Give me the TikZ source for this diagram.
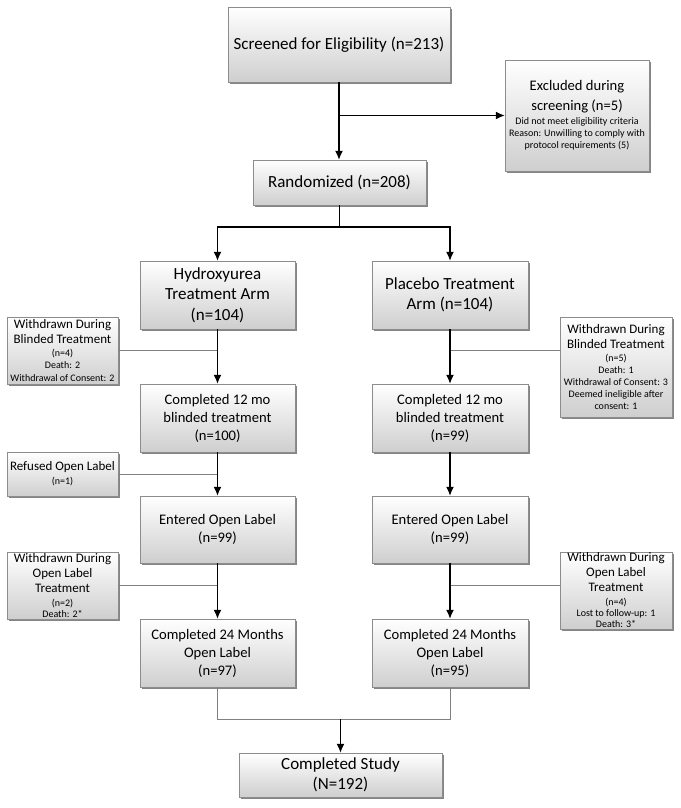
\documentclass[tikz,border=0pt]{standalone}
\usepackage{fontspec}
\setmainfont{Carlito}
\usetikzlibrary{arrows.meta,shadows}
\newcommand\bigtxt{\fontsize{17}{20.5}\selectfont}
\newcommand\midtxt{\fontsize{14.6}{18}\selectfont}
\newcommand\sidetxt{\fontsize{13}{15}\selectfont}
\newcommand\smalltxt{\fontsize{10}{12.2}\selectfont}
\newcommand\ttl[1]{{\sidetxt #1}}
\tikzset{
  box/.style={draw=black!45, top color=white, bottom color=black!19, align=center, inner sep=0pt,
    drop shadow={shadow xshift=1.6pt, shadow yshift=-1.6pt, fill=black!60, opacity=0.8}},
  wh/.style 2 args={minimum width=#1pt, minimum height=#2pt},
  bigbox/.style={box, font=\bigtxt},
  midbox/.style={box, font=\midtxt},
  sidebox/.style={box, font=\smalltxt},
  arr/.style={->, line width=1.3pt},
  gline/.style={draw=black!50, line width=0.9pt},
}
\begin{document}
\begin{tikzpicture}[>={Latex[length=9pt,width=8pt]}, x=1pt, y=-1pt]
  \useasboundingbox (0,0) rectangle (680,808);
  % main flow
  \node[bigbox, wh={222}{75}] (screen) at (339,44.5) {Screened for Eligibility (n=213)};
  \node[sidebox, wh={144}{111}] (excl) at (577,115.5) {{\midtxt Excluded during}\\[5.8pt]{\midtxt screening (n=5)}\\[1.8pt]
    Did not meet eligibility criteria\\Reason: Unwilling to comply with\\protocol requirements (5)};
  \node[bigbox, wh={173}{45}] (rand) at (339.5,182.5) {Randomized (n=208)};
  \node[bigbox, wh={155}{68}] (hu) at (217.5,295) {Hydroxyurea\\Treatment Arm\\(n=104)};
  \node[bigbox, wh={156}{68}] (pl) at (450,295) {Placebo Treatment\\Arm (n=104)};
  \node[midbox, wh={155}{68}] (c12l) at (217.5,418) {Completed 12 mo\\blinded treatment\\(n=100)};
  \node[midbox, wh={156}{68}] (c12r) at (450,418) {Completed 12 mo\\blinded treatment\\(n=99)};
  \node[midbox, wh={155}{67}] (eol) at (217.5,529.5) {Entered Open Label\\(n=99)};
  \node[midbox, wh={156}{67}] (eor) at (450,529.5) {Entered Open Label\\(n=99)};
  \node[midbox, wh={155}{68}] (c24l) at (217.5,653) {Completed 24 Months\\Open Label\\(n=97)};
  \node[midbox, wh={156}{68}] (c24r) at (450,653) {Completed 24 Months\\Open Label\\(n=95)};
  \node[bigbox, wh={203}{44}] (done) at (340.5,775) {Completed Study\\(N=192)};
  % side boxes
  \node[sidebox, wh={111}{67}] (wbl) at (62.5,350.5) {\ttl{Withdrawn During}\\[2.8pt]\ttl{Blinded Treatment}\\[0.8pt]
    (n=4)\\Death: 2\\Withdrawal of Consent: 2};
  \node[sidebox, wh={112}{100}] (wbr) at (616,367) {\ttl{Withdrawn During}\\[2.8pt]\ttl{Blinded Treatment}\\[0.8pt]
    (n=5)\\Death: 1\\Withdrawal of Consent: 3\\Deemed ineligible after\\consent: 1};
  \node[sidebox, wh={111}{44}] (ref) at (62.5,474) {\ttl{Refused Open Label}\\[1.8pt](n=1)};
  \node[sidebox, wh={111}{67}] (wol) at (62.5,585.5) {\ttl{Withdrawn During}\\[2.8pt]\ttl{Open Label}\\[2.8pt]\ttl{Treatment}\\[1.8pt]
    (n=2)\\[-1.2pt]Death: 2*};
  \node[sidebox, wh={112}{77}] (wor) at (616,590.5) {\ttl{Withdrawn During}\\[2.8pt]\ttl{Open Label}\\[2.8pt]\ttl{Treatment}\\[1.8pt]
    (n=4)\\[-1.2pt]Lost to follow-up: 1\\[-1.2pt]Death: 3*};
  \coordinate (split) at (339.5,227);
  \coordinate (join) at (0,719);
  % grey side lines
  \draw[gline] (wbl.east) -- (hu.south |- wbl.east);
  \draw[gline] (wbr.west |- wbl.east) -- (pl.south |- wbl.east);
  \draw[gline] (ref.east) -- (c12l.south |- ref.east);
  \draw[gline] (wol.east) -- (eol.south |- wol.east);
  \draw[gline] (wor.west |- wol.east) -- (eor.south |- wol.east);
  \draw[gline] (c24l.south) -- (c24l.south |- join) -- (c24r.south |- join) -- (c24r.south);
  % arrows
  \draw[arr] (screen.south) -- (screen.south |- rand.north);
  \draw[arr] (screen.south |- excl.west) -- (excl.west);
  \draw[line width=1.3pt] (rand.south) -- (split);
  \draw[arr] (split) -| (hu.north);
  \draw[arr] (split) -| (pl.north);
  \draw[arr] (hu) -- (c12l);
  \draw[arr] (pl) -- (c12r);
  \draw[arr] (c12l) -- (eol);
  \draw[arr] (c12r) -- (eor);
  \draw[arr] (eol) -- (c24l);
  \draw[arr] (eor) -- (c24r);
  \draw[arr] (done.north |- join) -- (done.north);
\end{tikzpicture}
\end{document}
